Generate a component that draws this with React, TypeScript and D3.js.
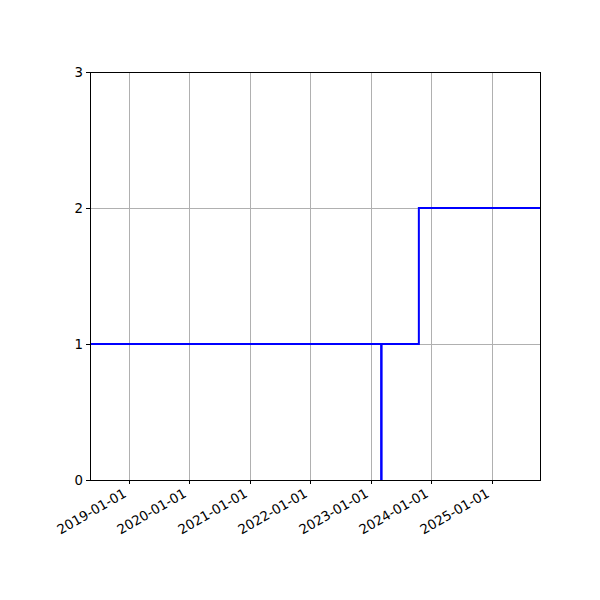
import React, { useEffect, useRef } from 'react';
import * as d3 from 'd3';

// step series (value holds until the next date)
const dates = ['2018-05-11', '2023-03-05', '2023-03-08', '2023-10-19', '2025-10-20'];
const values = [1, 0, 1, 2, 2];
const xTickLabels = ['2019-01-01', '2020-01-01', '2021-01-01', '2022-01-01', '2023-01-01', '2024-01-01', '2025-01-01'];
const yTicks = [0, 1, 2, 3];

const W = 600;
const H = 600;
const margin = { top: 72, right: 60, bottom: 120, left: 90 };

const App: React.FC = () => {
  const svgRef = useRef<SVGSVGElement | null>(null);

  useEffect(() => {
    if (!svgRef.current) return;
    const svg = d3.select(svgRef.current);
    svg.selectAll('*').remove();

    const parse = d3.utcParse('%Y-%m-%d');
    const pts = dates.map((d, i) => ({ date: parse(d) as Date, value: values[i] }));

    const x = d3.scaleUtc()
      .domain([pts[0].date, pts[pts.length - 1].date])
      .range([margin.left, W - margin.right]);
    const y = d3.scaleLinear()
      .domain([0, 3])
      .range([H - margin.bottom, margin.top]);

    const font = "'DejaVu Sans', sans-serif";
    const x0 = margin.left;
    const x1 = W - margin.right;
    const y0 = H - margin.bottom;
    const y1 = margin.top;

    // grid
    const grid = svg.append('g')
      .attr('stroke', '#b0b0b0')
      .attr('stroke-width', 1)
      .attr('shape-rendering', 'crispEdges');
    xTickLabels.forEach((t) => {
      const px = Math.round(x(parse(t) as Date));
      grid.append('line').attr('x1', px).attr('x2', px).attr('y1', y0).attr('y2', y1);
    });
    yTicks.forEach((t) => {
      grid.append('line').attr('x1', x0).attr('x2', x1).attr('y1', y(t)).attr('y2', y(t));
    });

    // step line
    const line = d3.line<{ date: Date; value: number }>()
      .x((d) => x(d.date))
      .y((d) => y(d.value))
      .curve(d3.curveStepAfter);
    svg.append('path')
      .datum(pts)
      .attr('fill', 'none')
      .attr('stroke', '#0000ff')
      .attr('stroke-width', 2)
      .attr('d', line);

    // spines
    svg.append('rect')
      .attr('x', x0).attr('y', y1)
      .attr('width', x1 - x0).attr('height', y0 - y1)
      .attr('fill', 'none').attr('stroke', '#000').attr('stroke-width', 1)
      .attr('shape-rendering', 'crispEdges');

    // x ticks + rotated labels
    const xt = svg.append('g');
    xTickLabels.forEach((t) => {
      const px = Math.round(x(parse(t) as Date));
      xt.append('line').attr('x1', px).attr('x2', px).attr('y1', y0).attr('y2', y0 + 4)
        .attr('stroke', '#000').attr('stroke-width', 1).attr('shape-rendering', 'crispEdges');
      xt.append('text')
        .attr('transform', `translate(${px - 1.6},${y0 + 16}) rotate(-30)`)
        .attr('text-anchor', 'end')
        .style('font-family', font)
        .style('font-size', '13.3px')
        .attr('fill', '#000')
        .text(t);
    });

    // y ticks
    const yt = svg.append('g');
    yTicks.forEach((t) => {
      yt.append('line').attr('x1', x0 - 4).attr('x2', x0).attr('y1', y(t)).attr('y2', y(t))
        .attr('stroke', '#000').attr('stroke-width', 1).attr('shape-rendering', 'crispEdges');
      yt.append('text')
        .attr('x', x0 - 7).attr('y', y(t))
        .attr('dy', '0.35em')
        .attr('text-anchor', 'end')
        .style('font-family', font)
        .style('font-size', '13.3px')
        .attr('fill', '#000')
        .text(String(t));
    });

    return () => { svg.selectAll('*').remove(); };
  }, []);

  return (
    <svg
      ref={svgRef}
      width={W}
      height={H}
      style={{ position: 'absolute', left: 0, top: 0, background: '#fff' }}
    />
  );
};

export default App;
